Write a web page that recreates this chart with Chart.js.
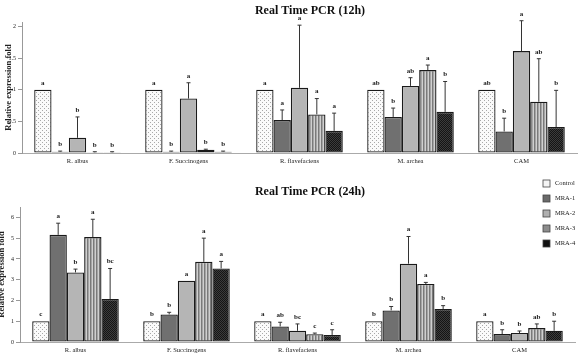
<!DOCTYPE html>
<html>
<head>
<meta charset="utf-8">
<script src="https://cdn.jsdelivr.net/npm/chart.js@4.4.1/dist/chart.umd.min.js"></script>
<style>
  body { margin: 0; background: #fff; }
  #wrap { position: relative; width: 581px; height: 358px; overflow: hidden; }
  canvas { position: absolute; left: 0; }
  #c12 { top: 0; }
  #c24 { top: 175px; }
</style>
</head>
<body>
<div id="wrap">
  <canvas id="c12" width="581" height="175"></canvas>
  <canvas id="c24" width="581" height="183"></canvas>
</div>
<script>
const categories = ["R. albus", "F. Succinogens", "R. flavefaciens", "M. archea", "CAM"];
const seriesNames = ["Control", "MRA-1", "MRA-2", "MRA-3", "MRA-4"];

// 12h
const control12 = [1, 1, 1, 1, 1];
const mra1_12 = [0.02, 0.02, 0.52, 0.57, 0.34];
const mra2_12 = [0.24, 0.86, 1.03, 1.06, 1.61];
const mra3_12 = [0.01, 0.05, 0.61, 1.31, 0.81];
const mra4_12 = [0.01, 0.02, 0.35, 0.65, 0.41];
const controlErr12 = [0, 0, 0, 0, 0];
const mra1Err12 = [0.01, 0.01, 0.16, 0.14, 0.21];
const mra2Err12 = [0.33, 0.25, 0.99, 0.13, 0.48];
const mra3Err12 = [0.01, 0.01, 0.25, 0.08, 0.68];
const mra4Err12 = [0.01, 0.01, 0.28, 0.48, 0.58];
const controlSig12 = ["a", "a", "a", "ab", "ab"];
const mra1Sig12 = ["b", "b", "a", "b", "b"];
const mra2Sig12 = ["b", "a", "a", "ab", "a"];
const mra3Sig12 = ["b", "b", "a", "a", "ab"];
const mra4Sig12 = ["b", "b", "a", "b", "b"];

// 24h
const control24 = [1, 1, 1, 1, 1];
const mra1_24 = [5.16, 1.33, 0.75, 1.52, 0.38];
const mra2_24 = [3.35, 2.95, 0.54, 3.77, 0.43];
const mra3_24 = [5.05, 3.86, 0.37, 2.79, 0.67];
const mra4_24 = [2.07, 3.54, 0.34, 1.59, 0.54];
const controlErr24 = [0, 0, 0, 0, 0];
const mra1Err24 = [0.56, 0.10, 0.20, 0.19, 0.21];
const mra2Err24 = [0.16, 0, 0.33, 1.31, 0.10];
const mra3Err24 = [0.86, 1.14, 0.06, 0.08, 0.20];
const mra4Err24 = [1.47, 0.34, 0.25, 0.16, 0.46];
const controlSig24 = ["c", "b", "a", "b", "a"];
const mra1Sig24 = ["a", "b", "ab", "b", "b"];
const mra2Sig24 = ["b", "a", "bc", "a", "b"];
const mra3Sig24 = ["a", "a", "c", "a", "ab"];
const mra4Sig24 = ["bc", "a", "c", "b", "b"];

const yTicks12 = [0, 0.5, 1, 1.5, 2];
const yTicks24 = [0, 1, 2, 3, 4, 5, 6];

Chart.defaults.font.family = "'Liberation Serif', 'DejaVu Serif', serif";
Chart.defaults.color = "#222";

function makePattern(kind) {
  const c = document.createElement("canvas");
  const x = c.getContext("2d");
  if (kind === "dots") {
    c.width = 4; c.height = 4;
    x.fillStyle = "#fafafa"; x.fillRect(0, 0, 4, 4);
    x.fillStyle = "#a8a8a8";
    x.fillRect(0, 0, 1, 1); x.fillRect(2, 2, 1, 1);
  } else if (kind === "stripes") {
    c.width = 3; c.height = 1;
    x.fillStyle = "#d0d0d0"; x.fillRect(0, 0, 3, 1);
    x.fillStyle = "#7a7a7a"; x.fillRect(0, 0, 1, 1);
    x.fillStyle = "#a5a5a5"; x.fillRect(1, 0, 1, 1);
  } else {
    c.width = 2; c.height = 2;
    x.fillStyle = "#151515"; x.fillRect(0, 0, 2, 2);
    x.fillStyle = "#3c3c3c";
    x.fillRect(0, 0, 1, 1); x.fillRect(1, 1, 1, 1);
  }
  return x.createPattern(c, "repeat");
}

const fills = [makePattern("dots"), "#707070", "#b5b5b5", makePattern("stripes"), makePattern("check")];
const legendFills = ["#f4f4f4", "#6a6a6a", "#b0b0b0", "#8c8c8c", "#111"];

function buildDatasets(values, errs, sigs) {
  return values.map((v, i) => ({
    label: seriesNames[i],
    data: v,
    err: errs[i],
    sig: sigs[i],
    backgroundColor: fills[i],
    borderColor: "#1a1a1a",
    borderWidth: 1.3,
    borderSkipped: false,
    categoryPercentage: 0.78,
    barPercentage: 1.0
  }));
}

const errorBars = {
  id: "errorBars",
  afterDatasetsDraw(chart) {
    const ctx = chart.ctx;
    const y = chart.scales.y;
    ctx.save();
    chart.data.datasets.forEach((ds, di) => {
      const meta = chart.getDatasetMeta(di);
      meta.data.forEach((bar, i) => {
        const e = ds.err[i];
        const top = y.getPixelForValue(ds.data[i] + e);
        if (e > 0) {
          ctx.strokeStyle = "#333";
          ctx.lineWidth = 1;
          ctx.beginPath();
          ctx.moveTo(bar.x, bar.y);
          ctx.lineTo(bar.x, top);
          ctx.moveTo(bar.x - 2, top);
          ctx.lineTo(bar.x + 2, top);
          ctx.stroke();
        }
        ctx.fillStyle = "#222";
        ctx.font = "bold 7px 'Liberation Serif', serif";
        ctx.textAlign = "center";
        ctx.textBaseline = "middle";
        ctx.fillText(ds.sig[i], bar.x, Math.min(top, bar.y) - 7);
      });
    });
    ctx.restore();
  }
};

const titleText = {
  id: "titleText",
  afterDraw(chart, args, opts) {
    const ctx = chart.ctx;
    ctx.save();
    ctx.fillStyle = "#111";
    ctx.font = "bold 12px 'Liberation Serif', serif";
    ctx.textAlign = "center";
    ctx.textBaseline = "middle";
    ctx.fillText(opts.text, opts.x, opts.y);
    ctx.restore();
  }
};

const boxLegend = {
  id: "boxLegend",
  afterDraw(chart, args, opts) {
    if (!opts.show) return;
    const ctx = chart.ctx;
    ctx.save();
    seriesNames.forEach((name, i) => {
      const yy = 5 + i * 15;
      ctx.fillStyle = legendFills[i];
      ctx.fillRect(543, yy, 7, 7);
      ctx.strokeStyle = "#444";
      ctx.lineWidth = 0.8;
      ctx.strokeRect(543, yy, 7, 7);
      ctx.fillStyle = "#222";
      ctx.font = "6.5px 'Liberation Serif', serif";
      ctx.textAlign = "left";
      ctx.textBaseline = "middle";
      ctx.fillText(name, 555, yy + 3.5);
    });
    ctx.restore();
  }
};

function makeChart(id, datasets, yMax, ticksList, opts) {
  return new Chart(document.getElementById(id).getContext("2d"), {
    type: "bar",
    data: { labels: categories, datasets: datasets },
    plugins: [errorBars, titleText, boxLegend],
    options: {
      responsive: false,
      animation: false,
      layout: { padding: { top: opts.padTop, right: opts.padRight, left: 0, bottom: 0 } },
      plugins: {
        legend: { display: false },
        tooltip: { enabled: false },
        titleText: { text: opts.title, x: 310, y: opts.titleY },
        boxLegend: { show: opts.legend }
      },
      scales: {
        x: {
          grid: { display: false, drawTicks: false },
          border: { color: "#aaa", width: 1 },
          ticks: { font: { size: 6.5 }, padding: 4, maxRotation: 0 },
          afterFit: (s) => { s.height = opts.xHeight; }
        },
        y: {
          min: 0,
          max: yMax,
          afterBuildTicks: (s) => { s.ticks = ticksList.map(v => ({ value: v })); },
          grid: { display: true, drawOnChartArea: false, drawTicks: true, tickLength: 4, color: "#999" },
          border: { color: "#999", width: 1 },
          ticks: { font: { size: 6 }, padding: 2, callback: (v) => String(v) },
          title: {
            display: true,
            text: "Relative expression fold",
            font: { size: 8.5, weight: "bold" },
            padding: { top: opts.yTitlePad, bottom: 0 }
          },
          afterFit: (s) => { s.width = opts.yWidth; }
        }
      }
    }
  });
}

makeChart("c12",
  buildDatasets([control12, mra1_12, mra2_12, mra3_12, mra4_12],
    [controlErr12, mra1Err12, mra2Err12, mra3Err12, mra4Err12],
    [controlSig12, mra1Sig12, mra2Sig12, mra3Sig12, mra4Sig12]),
  2.07, yTicks12,
  { padTop: 22, padRight: 4, xHeight: 22, yWidth: 22, yTitlePad: 4, title: "Real Time PCR (12h)", titleY: 11, legend: false });

makeChart("c24",
  buildDatasets([control24, mra1_24, mra2_24, mra3_24, mra4_24],
    [controlErr24, mra1Err24, mra2Err24, mra3Err24, mra4Err24],
    [controlSig24, mra1Sig24, mra2Sig24, mra3Sig24, mra4Sig24]),
  6.5, yTicks24,
  { padTop: 32, padRight: 6, xHeight: 16, yWidth: 20, yTitlePad: -3, title: "Real Time PCR (24h)", titleY: 17, legend: true });
</script>
</body>
</html>
